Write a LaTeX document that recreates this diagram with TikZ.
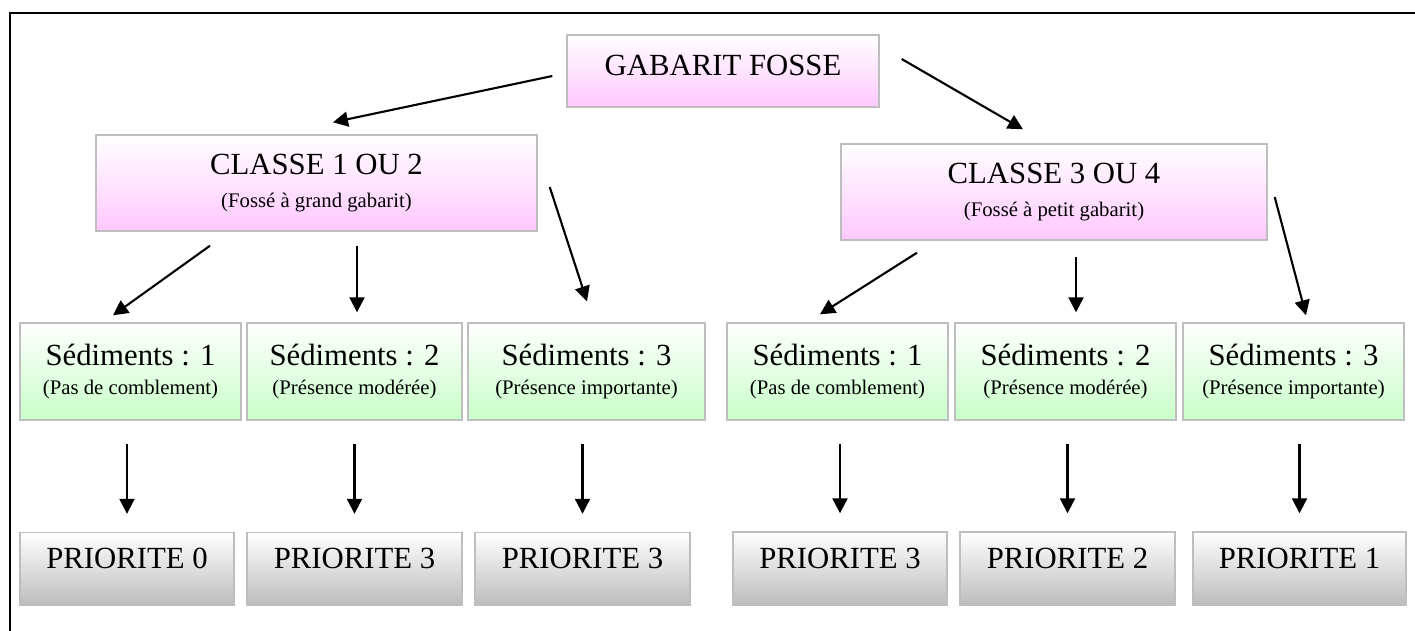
\documentclass[tikz,border=0pt]{standalone}
\usepackage{fontspec}
\setmainfont{Liberation Serif}
\usepackage{tikz}
\usetikzlibrary{positioning,calc,arrows.meta}
\definecolor{fosserose}{RGB}{255,200,255}
\definecolor{sedvert}{RGB}{200,255,200}
\definecolor{priogris}{RGB}{188,188,188}
\definecolor{bordgris}{RGB}{190,190,190}
\newcommand{\soustitre}[1]{{\fontsize{11.8}{14}\selectfont #1}}

\begin{document}
\begin{tikzpicture}[
  boite/.style={draw=bordgris, line width=0.8pt, top color=white, inner sep=2pt, align=center, font=\fontsize{17.5}{21}\selectfont},
  classe/.style={boite, bottom color=fosserose, minimum height=1.92cm},
  sediment/.style={boite, bottom color=sedvert, minimum width=4.42cm, minimum height=1.94cm},
  priorite/.style={boite, bottom color=priogris, minimum width=4.28cm, minimum height=1.46cm, text height=0.42cm, text depth=0.44cm},
  fleche/.style={-{Triangle[length=0.3cm,width=0.3cm]}, line width=1.2pt}
]
  \useasboundingbox (0,0) rectangle (28.3,-12.6);
  \draw[line width=1.1pt] (0.2,-12.7) -- (0.2,-0.26) -- (28.4,-0.26);

  \node[classe, minimum width=6.24cm, minimum height=1.44cm, text height=0.41cm, text depth=0.24cm] (g) at (14.46,-1.42) {GABARIT FOSSE};
  \node[classe, minimum width=8.82cm] (c1) at (6.33,-3.66) {CLASSE 1 OU 2\\[-2pt]\soustitre{(Fossé à grand gabarit)}};
  \node[classe, minimum width=8.52cm] (c3) at (21.08,-3.84) {CLASSE 3 OU 4\\[-2pt]\soustitre{(Fossé à petit gabarit)}};

  \node[sediment] (s1) at (2.61,-7.43) {Sédiments : 1\\[-4pt]\soustitre{(Pas de comblement)}};
  \node[sediment, minimum width=4.30cm] (s2) at (7.09,-7.43) {Sédiments : 2\\[-4pt]\soustitre{(Présence modérée)}};
  \node[sediment, minimum width=4.74cm] (s3) at (11.73,-7.43) {Sédiments : 3\\[-4pt]\soustitre{(Présence importante)}};
  \node[sediment] (s4) at (16.75,-7.43) {Sédiments : 1\\[-4pt]\soustitre{(Pas de comblement)}};
  \node[sediment] (s5) at (21.31,-7.43) {Sédiments : 2\\[-4pt]\soustitre{(Présence modérée)}};
  \node[sediment] (s6) at (25.87,-7.43) {Sédiments : 3\\[-4pt]\soustitre{(Présence importante)}};

  \node[priorite] (p1) at (2.54,-11.38) {PRIORITE 0};
  \node[priorite, minimum width=4.30cm] (p2) at (7.09,-11.38) {PRIORITE 3};
  \node[priorite, minimum width=4.30cm] (p3) at (11.65,-11.38) {PRIORITE 3};
  \node[priorite] (p4) at (16.80,-11.37) {PRIORITE 3};
  \node[priorite, minimum width=4.30cm] (p5) at (21.35,-11.37) {PRIORITE 2};
  \node[priorite, minimum width=4.26cm] (p6) at (25.99,-11.37) {PRIORITE 1};

  \draw[fleche] ([shift={(-0.28,-0.10)}]g.west) -- ([shift={(0.33,0.24)}]c1.north);
  \draw[fleche] ([shift={(0.44,0.24)}]g.east) -- ([shift={(-0.62,0.28)}]c3.north);

  \draw[fleche] ([shift={(-2.13,-0.28)}]c1.south) -- ([shift={(-0.35,0.14)}]s1.north);
  \draw[fleche] ([shift={(0.81,-0.28)}]c1.south) -- ([shift={(0.05,0.20)}]s2.north);
  \draw[fleche] ([shift={(0.24,-0.08)}]c1.east) -- ([shift={(0.01,0.42)}]s3.north);
  \draw[fleche] ([shift={(-2.74,-0.24)}]c3.south) -- ([shift={(-0.35,0.16)}]s4.north);
  \draw[fleche] ([shift={(0.44,-0.32)}]c3.south) -- ([shift={(0.21,0.20)}]s5.north);
  \draw[fleche] ([shift={(0.14,-0.10)}]c3.east) -- ([shift={(0.25,0.14)}]s6.north);

  \foreach \i in {1,...,6}{
    \draw[fleche] ([yshift=-0.46cm]p\i.north |- s\i.south) -- ([yshift=0.36cm]p\i.north);
  }
\end{tikzpicture}
\end{document}
